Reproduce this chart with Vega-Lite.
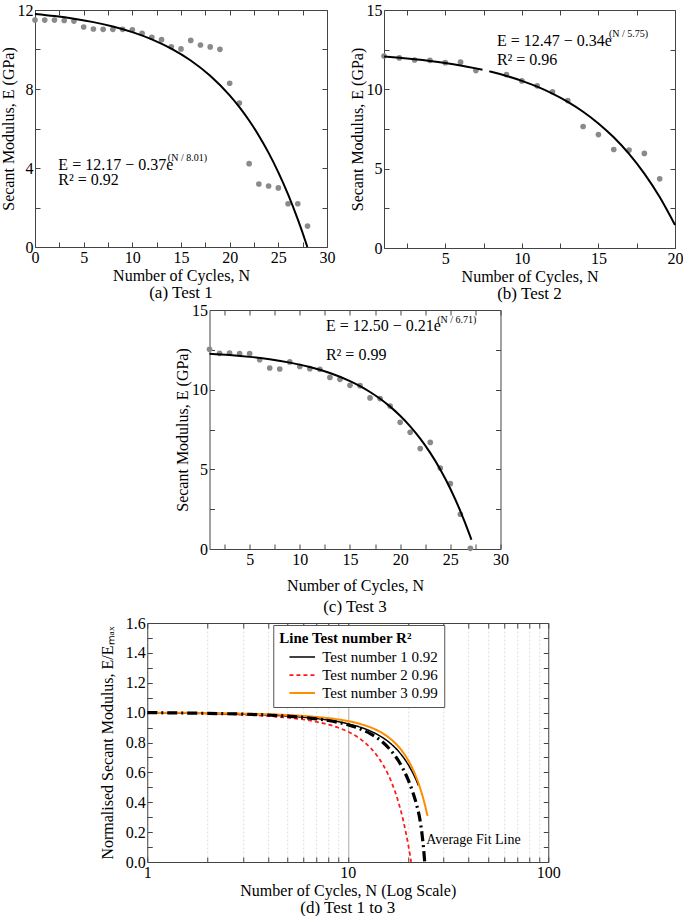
{
  "$schema": "https://vega.github.io/schema/vega-lite/v6.json",
  "padding": {"left": 0, "top": 2, "right": 0, "bottom": 0},
  "background": "white",
  "config": {
    "font": "Liberation Serif",
    "view": {"stroke": null},
    "axis": {
      "domainColor": "#444",
      "tickColor": "#444",
      "tickSize": -5,
      "labelPadding": 7,
      "labelFontSize": 16,
      "labelColor": "black",
      "titleFontSize": 16,
      "titleFontWeight": "normal",
      "titleColor": "black",
      "labelFlush": false,
      "labelOverlap": false,
      "grid": false
    },
    "title": {"fontSize": 17, "fontWeight": "normal", "orient": "bottom", "offset": 2, "color": "black"},
    "legend": {"labelFontSize": 15, "titleFontSize": 15}
  },
  "resolve": {"legend": {"color": "independent", "strokeDash": "independent", "strokeWidth": "independent"}},
  "center": true,
  "spacing": 0,
  "vconcat": [
    {
      "spacing": 14,
      "hconcat": [
        {
          "width": 292,
          "height": 237,
          "title": {"text": "(a) Test 1"},
          "resolve": {"axis": {"x": "independent", "y": "independent"}},
          "layer": [
            {
              "data": {"values": [
                {"N": 0, "E": 11.49}, {"N": 1, "E": 11.49}, {"N": 2, "E": 11.49}, {"N": 3, "E": 11.47}, {"N": 4, "E": 11.44},
                {"N": 5, "E": 11.14}, {"N": 6, "E": 11.04}, {"N": 7, "E": 11.02}, {"N": 8, "E": 11.02}, {"N": 9, "E": 11.02},
                {"N": 10, "E": 11.0}, {"N": 11, "E": 10.82}, {"N": 12, "E": 10.62}, {"N": 13, "E": 10.5}, {"N": 14, "E": 10.14},
                {"N": 15, "E": 10.03}, {"N": 16, "E": 10.46}, {"N": 17, "E": 10.23}, {"N": 18, "E": 10.13}, {"N": 19, "E": 10.01},
                {"N": 20, "E": 8.29}, {"N": 21, "E": 7.29}, {"N": 22, "E": 4.22}, {"N": 23, "E": 3.19}, {"N": 24, "E": 3.09},
                {"N": 25, "E": 2.99}, {"N": 26, "E": 2.19}, {"N": 27, "E": 2.19}, {"N": 28, "E": 1.06}
              ]},
              "mark": {"type": "circle", "color": "#8a8a8a", "size": 32, "opacity": 1},
              "encoding": {
                "x": {"field": "N", "type": "quantitative", "scale": {"domain": [0, 30], "nice": false},
                  "axis": {"title": "Number of Cycles, N", "values": [0, 2.5, 5, 7.5, 10, 12.5, 15, 17.5, 20, 22.5, 25, 27.5, 30], "labelExpr": "datum.value % 5 === 0 ? datum.value : ''", "titlePadding": 2}},
                "y": {"field": "E", "type": "quantitative", "scale": {"domain": [0, 12], "nice": false},
                  "axis": {"title": "Secant Modulus, E (GPa)", "values": [0, 2, 4, 6, 8, 10, 12], "labelExpr": "datum.value % 4 === 0 ? datum.value : ''", "titlePadding": 1}}
              }
            },
            {
              "data": {"values": [
                {"N": 0, "E": 11.8}, {"N": 2, "E": 11.695}, {"N": 4, "E": 11.56}, {"N": 6, "E": 11.387}, {"N": 8, "E": 11.165},
                {"N": 10, "E": 10.881}, {"N": 12, "E": 10.515}, {"N": 14, "E": 10.045}, {"N": 16, "E": 9.443}, {"N": 18, "E": 8.669},
                {"N": 20, "E": 7.676}, {"N": 21, "E": 7.079}, {"N": 22, "E": 6.402}, {"N": 23, "E": 5.635}, {"N": 24, "E": 4.766},
                {"N": 25, "E": 3.781}, {"N": 26, "E": 2.667}, {"N": 27, "E": 1.402}, {"N": 27.5, "E": 0.709}, {"N": 27.98, "E": 0.0}
              ]},
              "mark": {"type": "line", "color": "black", "strokeWidth": 2, "interpolate": "monotone"},
              "encoding": {
                "x": {"field": "N", "type": "quantitative", "axis": {"orient": "top", "labels": false, "title": null, "values": [0, 2.5, 5, 7.5, 10, 12.5, 15, 17.5, 20, 22.5, 25, 27.5, 30]}},
                "y": {"field": "E", "type": "quantitative", "axis": {"orient": "right", "labels": false, "title": null, "values": [0, 2, 4, 6, 8, 10, 12]}}
              }
            },
            {
              "data": {"values": [{"N": 2.4, "E": 3.9, "t": "E = 12.17 − 0.37e"}, {"N": 2.4, "E": 3.15, "t": "R² = 0.92"}]},
              "mark": {"type": "text", "align": "left", "baseline": "alphabetic", "fontSize": 16},
              "encoding": {"x": {"field": "N", "type": "quantitative", "axis": null}, "y": {"field": "E", "type": "quantitative", "axis": null}, "text": {"field": "t"}}
            },
            {
              "data": {"values": [{"N": 13.65, "E": 4.35, "t": "(N / 8.01)"}]},
              "mark": {"type": "text", "align": "left", "baseline": "alphabetic", "fontSize": 10},
              "encoding": {"x": {"field": "N", "type": "quantitative", "axis": null}, "y": {"field": "E", "type": "quantitative", "axis": null}, "text": {"field": "t"}}
            }
          ]
        },
        {
          "width": 291,
          "height": 238,
          "title": {"text": "(b) Test 2"},
          "resolve": {"axis": {"x": "independent", "y": "independent"}},
          "layer": [
            {
              "data": {"values": [
                {"N": 1, "E": 12.1}, {"N": 2, "E": 11.98}, {"N": 3, "E": 11.85}, {"N": 4, "E": 11.83}, {"N": 5, "E": 11.68},
                {"N": 6, "E": 11.71}, {"N": 7, "E": 11.18}, {"N": 9, "E": 10.93}, {"N": 10, "E": 10.53}, {"N": 11, "E": 10.22},
                {"N": 12, "E": 9.84}, {"N": 13, "E": 9.29}, {"N": 14, "E": 7.66}, {"N": 15, "E": 7.15}, {"N": 16, "E": 6.21},
                {"N": 17, "E": 6.17}, {"N": 18, "E": 5.96}, {"N": 19, "E": 4.36}
              ]},
              "mark": {"type": "circle", "color": "#8a8a8a", "size": 32, "opacity": 1},
              "encoding": {
                "x": {"field": "N", "type": "quantitative", "scale": {"domain": [1, 20], "nice": false, "zero": false},
                  "axis": {"title": "Number of Cycles, N", "values": [2.5, 5, 7.5, 10, 12.5, 15, 17.5, 20], "labelExpr": "datum.value % 5 === 0 ? datum.value : ''", "titlePadding": 2}},
                "y": {"field": "E", "type": "quantitative", "scale": {"domain": [0, 15], "nice": false},
                  "axis": {"title": "Secant Modulus, E (GPa)", "values": [0, 2.5, 5, 7.5, 10, 12.5, 15], "labelExpr": "datum.value % 5 === 0 ? datum.value : ''", "titlePadding": 1}}
              }
            },
            {
              "data": {"values": [
                {"N": 1, "E": 12.065, "seg": 1}, {"N": 2, "E": 11.989, "seg": 1}, {"N": 3, "E": 11.897, "seg": 1}, {"N": 4, "E": 11.788, "seg": 1},
                {"N": 5, "E": 11.659, "seg": 1}, {"N": 6, "E": 11.505, "seg": 1}, {"N": 7, "E": 11.321, "seg": 1}, {"N": 7.43, "E": 11.232, "seg": 1},
                {"N": 7.87, "E": 11.134, "seg": 2}, {"N": 8, "E": 11.103, "seg": 2}, {"N": 9, "E": 10.843, "seg": 2}, {"N": 10, "E": 10.535, "seg": 2},
                {"N": 11, "E": 10.167, "seg": 2}, {"N": 12, "E": 9.729, "seg": 2}, {"N": 13, "E": 9.209, "seg": 2}, {"N": 14, "E": 8.589, "seg": 2},
                {"N": 15, "E": 7.852, "seg": 2}, {"N": 16, "E": 6.975, "seg": 2}, {"N": 17, "E": 5.931, "seg": 2}, {"N": 18, "E": 4.689, "seg": 2},
                {"N": 19, "E": 3.212, "seg": 2}, {"N": 20, "E": 1.453, "seg": 2}
              ]},
              "mark": {"type": "line", "color": "black", "strokeWidth": 2, "interpolate": "monotone"},
              "encoding": {
                "detail": {"field": "seg"},
                "x": {"field": "N", "type": "quantitative", "axis": {"orient": "top", "labels": false, "title": null, "values": [2.5, 5, 7.5, 10, 12.5, 15, 17.5, 20]}},
                "y": {"field": "E", "type": "quantitative", "axis": {"orient": "right", "labels": false, "title": null, "values": [0, 2.5, 5, 7.5, 10, 12.5, 15]}}
              }
            },
            {
              "data": {"values": [{"N": 8.37, "E": 12.75, "t": "E = 12.47 − 0.34e"}, {"N": 8.37, "E": 11.52, "t": "R² = 0.96"}]},
              "mark": {"type": "text", "align": "left", "baseline": "alphabetic", "fontSize": 16},
              "encoding": {"x": {"field": "N", "type": "quantitative", "axis": null}, "y": {"field": "E", "type": "quantitative", "axis": null}, "text": {"field": "t"}}
            },
            {
              "data": {"values": [{"N": 15.69, "E": 13.28, "t": "(N / 5.75)"}]},
              "mark": {"type": "text", "align": "left", "baseline": "alphabetic", "fontSize": 10},
              "encoding": {"x": {"field": "N", "type": "quantitative", "axis": null}, "y": {"field": "E", "type": "quantitative", "axis": null}, "text": {"field": "t"}}
            }
          ]
        }
      ]
    },
    {
      "width": 291,
      "height": 239,
      "title": {"text": "(c) Test 3", "offset": 6},
      "resolve": {"axis": {"x": "independent", "y": "independent"}},
      "layer": [
        {
          "data": {"values": [
            {"N": 1, "E": 12.53}, {"N": 2, "E": 12.28}, {"N": 3, "E": 12.3}, {"N": 4, "E": 12.26}, {"N": 5, "E": 12.26},
            {"N": 6, "E": 11.88}, {"N": 7, "E": 11.36}, {"N": 8, "E": 11.3}, {"N": 9, "E": 11.74}, {"N": 10, "E": 11.46},
            {"N": 11, "E": 11.32}, {"N": 12, "E": 11.28}, {"N": 13, "E": 10.77}, {"N": 14, "E": 10.65}, {"N": 15, "E": 10.27},
            {"N": 16, "E": 10.25}, {"N": 17, "E": 9.48}, {"N": 18, "E": 9.44}, {"N": 19, "E": 8.97}, {"N": 20, "E": 7.95},
            {"N": 21, "E": 7.32}, {"N": 22, "E": 6.3}, {"N": 23, "E": 6.69}, {"N": 24, "E": 5.08}, {"N": 25, "E": 4.1},
            {"N": 26, "E": 2.18}, {"N": 27, "E": 0.04}
          ]},
          "mark": {"type": "circle", "color": "#8a8a8a", "size": 32, "opacity": 1},
          "encoding": {
            "x": {"field": "N", "type": "quantitative", "scale": {"domain": [1, 30], "nice": false, "zero": false},
              "axis": {"title": "Number of Cycles, N", "values": [2.5, 5, 7.5, 10, 12.5, 15, 17.5, 20, 22.5, 25, 27.5, 30], "labelExpr": "datum.value % 5 === 0 ? datum.value : ''", "titlePadding": 10}},
            "y": {"field": "E", "type": "quantitative", "scale": {"domain": [0, 15], "nice": false},
              "axis": {"title": "Secant Modulus, E (GPa)", "values": [0, 2.5, 5, 7.5, 10, 12.5, 15], "labelExpr": "datum.value % 5 === 0 ? datum.value : ''", "titlePadding": 1}}
          }
        },
        {
          "data": {"values": [
            {"N": 1, "E": 12.256}, {"N": 3, "E": 12.172}, {"N": 5, "E": 12.058}, {"N": 7, "E": 11.904}, {"N": 9, "E": 11.697},
            {"N": 11, "E": 11.418}, {"N": 13, "E": 11.042}, {"N": 15, "E": 10.536}, {"N": 16, "E": 10.221}, {"N": 17, "E": 9.854},
            {"N": 18, "E": 9.429}, {"N": 19, "E": 8.936}, {"N": 20, "E": 8.363}, {"N": 21, "E": 7.698}, {"N": 22, "E": 6.926},
            {"N": 23, "E": 6.031}, {"N": 24, "E": 4.989}, {"N": 25, "E": 3.782}, {"N": 26, "E": 2.382}, {"N": 27, "E": 0.757},
            {"N": 27.1, "E": 0.58}
          ]},
          "mark": {"type": "line", "color": "black", "strokeWidth": 2, "interpolate": "monotone"},
          "encoding": {
            "x": {"field": "N", "type": "quantitative", "axis": {"orient": "top", "labels": false, "title": null, "values": [2.5, 5, 7.5, 10, 12.5, 15, 17.5, 20, 22.5, 25, 27.5, 30]}},
            "y": {"field": "E", "type": "quantitative", "axis": {"orient": "right", "labels": false, "title": null, "values": [0, 2.5, 5, 7.5, 10, 12.5, 15]}}
          }
        },
        {
          "data": {"values": [{"N": 12.6, "E": 13.7, "t": "E = 12.50 − 0.21e"}, {"N": 12.6, "E": 11.86, "t": "R² = 0.99"}]},
          "mark": {"type": "text", "align": "left", "baseline": "alphabetic", "fontSize": 16},
          "encoding": {"x": {"field": "N", "type": "quantitative", "axis": null}, "y": {"field": "E", "type": "quantitative", "axis": null}, "text": {"field": "t"}}
        },
        {
          "data": {"values": [{"N": 23.7, "E": 14.17, "t": "(N / 6.71)"}]},
          "mark": {"type": "text", "align": "left", "baseline": "alphabetic", "fontSize": 10},
          "encoding": {"x": {"field": "N", "type": "quantitative", "axis": null}, "y": {"field": "E", "type": "quantitative", "axis": null}, "text": {"field": "t"}}
        }
      ]
    },
    {
      "width": 401,
      "height": 239,
      "title": {"text": "(d) Test 1 to 3"},
      "resolve": {"axis": {"x": "independent", "y": "independent"}},
      "layer": [
        {
          "data": {"values": [
            {"N": 1, "v": 1.0, "s": "Test number 1 0.92"}, {"N": 2, "v": 0.995, "s": "Test number 1 0.92"}, {"N": 3, "v": 0.99, "s": "Test number 1 0.92"},
            {"N": 4, "v": 0.984, "s": "Test number 1 0.92"}, {"N": 5, "v": 0.977, "s": "Test number 1 0.92"}, {"N": 6, "v": 0.969, "s": "Test number 1 0.92"},
            {"N": 7, "v": 0.96, "s": "Test number 1 0.92"}, {"N": 8, "v": 0.95, "s": "Test number 1 0.92"}, {"N": 9, "v": 0.939, "s": "Test number 1 0.92"},
            {"N": 10, "v": 0.926, "s": "Test number 1 0.92"}, {"N": 11, "v": 0.911, "s": "Test number 1 0.92"}, {"N": 12, "v": 0.895, "s": "Test number 1 0.92"},
            {"N": 13, "v": 0.876, "s": "Test number 1 0.92"}, {"N": 14, "v": 0.855, "s": "Test number 1 0.92"}, {"N": 15, "v": 0.831, "s": "Test number 1 0.92"},
            {"N": 16, "v": 0.804, "s": "Test number 1 0.92"}, {"N": 17, "v": 0.773, "s": "Test number 1 0.92"}, {"N": 18, "v": 0.738, "s": "Test number 1 0.92"},
            {"N": 19, "v": 0.698, "s": "Test number 1 0.92"}, {"N": 20, "v": 0.653, "s": "Test number 1 0.92"}, {"N": 21, "v": 0.602, "s": "Test number 1 0.92"},
            {"N": 22, "v": 0.545, "s": "Test number 1 0.92"}, {"N": 22.5, "v": 0.513, "s": "Test number 1 0.92"},
            {"N": 1, "v": 1.0, "s": "Test number 2 0.96"}, {"N": 2, "v": 0.994, "s": "Test number 2 0.96"}, {"N": 3, "v": 0.986, "s": "Test number 2 0.96"},
            {"N": 4, "v": 0.977, "s": "Test number 2 0.96"}, {"N": 5, "v": 0.966, "s": "Test number 2 0.96"}, {"N": 6, "v": 0.954, "s": "Test number 2 0.96"},
            {"N": 7, "v": 0.938, "s": "Test number 2 0.96"}, {"N": 8, "v": 0.92, "s": "Test number 2 0.96"}, {"N": 9, "v": 0.899, "s": "Test number 2 0.96"},
            {"N": 10, "v": 0.873, "s": "Test number 2 0.96"}, {"N": 11, "v": 0.843, "s": "Test number 2 0.96"}, {"N": 12, "v": 0.806, "s": "Test number 2 0.96"},
            {"N": 13, "v": 0.763, "s": "Test number 2 0.96"}, {"N": 14, "v": 0.712, "s": "Test number 2 0.96"}, {"N": 15, "v": 0.651, "s": "Test number 2 0.96"},
            {"N": 16, "v": 0.578, "s": "Test number 2 0.96"}, {"N": 17, "v": 0.492, "s": "Test number 2 0.96"}, {"N": 18, "v": 0.389, "s": "Test number 2 0.96"},
            {"N": 19, "v": 0.266, "s": "Test number 2 0.96"}, {"N": 20, "v": 0.12, "s": "Test number 2 0.96"}, {"N": 20.5, "v": 0.037, "s": "Test number 2 0.96"},
            {"N": 20.7, "v": 0.0, "s": "Test number 2 0.96"},
            {"N": 1, "v": 1.0, "s": "Test number 3 0.99"}, {"N": 2, "v": 0.997, "s": "Test number 3 0.99"}, {"N": 3, "v": 0.993, "s": "Test number 3 0.99"},
            {"N": 4, "v": 0.989, "s": "Test number 3 0.99"}, {"N": 5, "v": 0.984, "s": "Test number 3 0.99"}, {"N": 6, "v": 0.978, "s": "Test number 3 0.99"},
            {"N": 7, "v": 0.971, "s": "Test number 3 0.99"}, {"N": 8, "v": 0.963, "s": "Test number 3 0.99"}, {"N": 9, "v": 0.954, "s": "Test number 3 0.99"},
            {"N": 10, "v": 0.944, "s": "Test number 3 0.99"}, {"N": 11, "v": 0.932, "s": "Test number 3 0.99"}, {"N": 12, "v": 0.917, "s": "Test number 3 0.99"},
            {"N": 13, "v": 0.901, "s": "Test number 3 0.99"}, {"N": 14, "v": 0.882, "s": "Test number 3 0.99"}, {"N": 15, "v": 0.86, "s": "Test number 3 0.99"},
            {"N": 16, "v": 0.834, "s": "Test number 3 0.99"}, {"N": 17, "v": 0.804, "s": "Test number 3 0.99"}, {"N": 18, "v": 0.769, "s": "Test number 3 0.99"},
            {"N": 19, "v": 0.729, "s": "Test number 3 0.99"}, {"N": 20, "v": 0.682, "s": "Test number 3 0.99"}, {"N": 21, "v": 0.628, "s": "Test number 3 0.99"},
            {"N": 22, "v": 0.565, "s": "Test number 3 0.99"}, {"N": 23, "v": 0.492, "s": "Test number 3 0.99"}, {"N": 24, "v": 0.407, "s": "Test number 3 0.99"},
            {"N": 25, "v": 0.309, "s": "Test number 3 0.99"}
          ]},
          "mark": {"type": "line", "interpolate": "monotone"},
          "encoding": {
            "x": {"field": "N", "type": "quantitative", "scale": {"type": "log", "domain": [1, 100], "nice": false},
              "axis": {"title": "Number of Cycles, N (Log Scale)", "values": [1, 2, 3, 4, 5, 6, 7, 8, 9, 10, 20, 30, 40, 50, 60, 70, 80, 90, 100],
                "labelExpr": "datum.value === 1 || datum.value === 10 || datum.value === 100 ? datum.value : ''", "titlePadding": 2,
                "grid": true, "gridColor": {"condition": {"test": "datum.value === 10", "value": "#aaaaaa"}, "value": "#dddddd"},
                "gridDash": {"condition": {"test": "datum.value === 10", "value": []}, "value": [2, 2]}}},
            "y": {"field": "v", "type": "quantitative", "scale": {"domain": [0, 1.6], "nice": false},
              "axis": {"title": "Normalised Secant Modulus, E/Eₘₐₓ", "values": [0, 0.1, 0.2, 0.3, 0.4, 0.5, 0.6, 0.7, 0.8, 0.9, 1.0, 1.1, 1.2, 1.3, 1.4, 1.5, 1.6],
                "labelExpr": "round(datum.value * 10) % 2 === 0 ? format(datum.value, '.1f') : ''", "titlePadding": 10}},
            "color": {"field": "s", "type": "nominal", "title": "Line  Test number R²",
              "scale": {"domain": ["Test number 1 0.92", "Test number 2 0.96", "Test number 3 0.99"], "range": ["#000000", "#ff1a1a", "#ff8c00"]},
              "legend": {"orient": "none", "legendX": 126, "legendY": 2, "fillColor": "white", "strokeColor": "#555555", "padding": 6,
                "titleFontWeight": "bold", "titleColor": "black", "labelColor": "black", "symbolType": "M-1.6,0L1.6,0", "symbolStrokeWidth": 2, "symbolSize": 256,
                "symbolOffset": 14, "labelOffset": 11, "rowPadding": 1, "titlePadding": 2}},
            "strokeDash": {"field": "s", "type": "nominal", "title": "Line  Test number R²",
              "scale": {"domain": ["Test number 1 0.92", "Test number 2 0.96", "Test number 3 0.99"], "range": [[1, 0], [4, 3], [1, 0]]}},
            "strokeWidth": {"field": "s", "type": "nominal", "legend": null,
              "scale": {"domain": ["Test number 1 0.92", "Test number 2 0.96", "Test number 3 0.99"], "range": [1.5, 2, 2]}}
          }
        },
        {
          "data": {"values": [
            {"N": 1, "v": 1.0}, {"N": 2, "v": 0.995}, {"N": 3, "v": 0.99}, {"N": 4, "v": 0.984}, {"N": 5, "v": 0.976},
            {"N": 6, "v": 0.968}, {"N": 7, "v": 0.958}, {"N": 8, "v": 0.947}, {"N": 9, "v": 0.934}, {"N": 10, "v": 0.919},
            {"N": 11, "v": 0.902}, {"N": 12, "v": 0.881}, {"N": 13, "v": 0.858}, {"N": 14, "v": 0.831}, {"N": 15, "v": 0.8},
            {"N": 16, "v": 0.763}, {"N": 17, "v": 0.721}, {"N": 18, "v": 0.673}, {"N": 19, "v": 0.616}, {"N": 20, "v": 0.551},
            {"N": 21, "v": 0.476}, {"N": 22, "v": 0.388}, {"N": 23, "v": 0.27}, {"N": 23.5, "v": 0.18}, {"N": 24, "v": 0.06},
            {"N": 24.2, "v": 0.0}
          ]},
          "mark": {"type": "line", "color": "black", "strokeWidth": 3.2, "strokeDash": [10, 4, 2, 4], "interpolate": "monotone"},
          "encoding": {
            "x": {"field": "N", "type": "quantitative", "axis": {"orient": "top", "labels": false, "title": null, "values": [1, 2, 3, 4, 5, 6, 7, 8, 9, 10, 20, 30, 40, 50, 60, 70, 80, 90, 100]}},
            "y": {"field": "v", "type": "quantitative", "axis": {"orient": "right", "labels": false, "title": "|", "titleOpacity": 0, "titleFontSize": 16, "titlePadding": 6, "values": [0, 0.1, 0.2, 0.3, 0.4, 0.5, 0.6, 0.7, 0.8, 0.9, 1.0, 1.1, 1.2, 1.3, 1.4, 1.5, 1.6]}}
          }
        },
        {
          "data": {"values": [{"N": 24.6, "v": 0.145, "t": "Average Fit Line"}]},
          "mark": {"type": "text", "align": "left", "baseline": "middle", "fontSize": 14},
          "encoding": {"x": {"field": "N", "type": "quantitative", "axis": null}, "y": {"field": "v", "type": "quantitative", "axis": null}, "text": {"field": "t"}}
        }
      ]
    }
  ]
}
